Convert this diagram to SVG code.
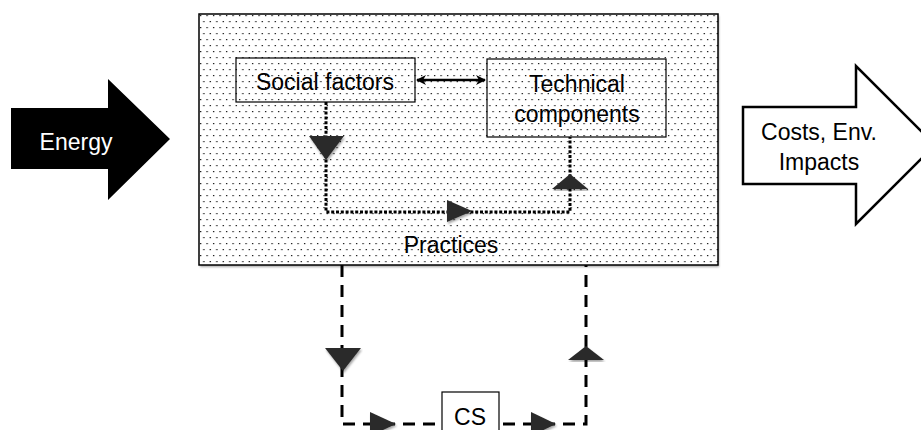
<svg xmlns="http://www.w3.org/2000/svg" width="921" height="430" viewBox="0 0 921 430">
  <defs>
    <!-- stippled fill for the practices area -->
    <pattern id="dots" x="199" y="14" width="6.5" height="12" patternUnits="userSpaceOnUse">
      <rect x="1" y="1" width="1.2" height="1.2" fill="#000"/>
      <rect x="4.25" y="7" width="1.2" height="1.2" fill="#000"/>
    </pattern>
    <filter id="shadow" x="-5%" y="-5%" width="110%" height="115%">
      <feDropShadow dx="1" dy="2" stdDeviation="1.2" flood-color="#000" flood-opacity="0.35"/>
    </filter>
    <marker id="tip" viewBox="0 0 10 10" refX="9" refY="5" markerWidth="4" markerHeight="4" orient="auto-start-reverse" markerUnits="strokeWidth">
      <path d="M0,0 L10,5 L0,10 L3,5 Z" fill="#000"/>
    </marker>
    <style>
      .lbl { font-family: "Liberation Sans", Arial, sans-serif; font-size: 23px; fill: #000; text-anchor: middle; }
      .box { fill: none; stroke: #000; stroke-width: 1.2; }
      .dotted { fill: none; stroke: #000; stroke-width: 3; stroke-dasharray: 3 1.8; }
      .dashed { fill: none; stroke: #000; stroke-width: 3; stroke-dasharray: 12 8; }
      .head { fill: #2a2a2a; filter: url(#shadow); }
    </style>
  </defs>

  <rect width="921" height="430" fill="#fff"/>

  <!-- input arrow -->
  <g id="energy">
    <polygon points="11,108 108,108 108,79 170,139 108,200 108,169 11,169" fill="#000"/>
    <text class="lbl" x="76" y="150" style="fill:#fff">Energy</text>
  </g>

  <!-- practices container -->
  <g id="practices">
    <rect x="199" y="14" width="519" height="251" fill="#fff" filter="url(#shadow)"/>
    <rect x="199" y="14" width="519" height="251" fill="url(#dots)" stroke="#000" stroke-width="1.5"/>
    <text class="lbl" x="451" y="253">Practices</text>
  </g>

  <g id="social-factors">
    <rect class="box" x="236" y="58" width="179" height="44"/>
    <text class="lbl" x="325" y="90">Social factors</text>
  </g>

  <g id="technical-components">
    <rect class="box" x="487" y="59" width="179" height="78"/>
    <text class="lbl" x="577" y="92">Technical</text>
    <text class="lbl" x="577" y="122">components</text>
  </g>

  <!-- output arrow -->
  <g id="costs">
    <polygon points="743,107 856,107 856,66 935,145 856,224 856,184 743,184" fill="#fff" stroke="#000" stroke-width="2.5"/>
    <text class="lbl" x="819" y="140">Costs, Env.</text>
    <text class="lbl" x="819" y="170">Impacts</text>
  </g>

  <g id="connectors">
    <!-- two-way link between social and technical -->
    <line x1="417" y1="80" x2="485" y2="80" stroke="#000" stroke-width="2.5" marker-start="url(#tip)" marker-end="url(#tip)"/>

    <!-- inner dotted loop -->
    <polyline class="dotted" points="326,102 326,212 570,212 570,137"/>
    <polygon class="head" points="309,136 344,136 326,160"/>
    <polygon class="head" points="447,200 472,211 447,222"/>
    <polygon class="head" points="552,189 588,189 570,174"/>

    <!-- outer dashed loop through CS -->
    <polyline class="dashed" points="342,265 342,424 586,424 586,265"/>
    <polygon class="head" points="325,348 361,348 343,371"/>
    <polygon class="head" points="568,360 604,360 586,346"/>
    <polygon class="head" points="370,412 396,424 370,436"/>
    <polygon class="head" points="531,412 556,424 531,436"/>
  </g>

  <g id="cs">
    <rect x="442" y="392" width="57" height="50" fill="#fff" stroke="#000" stroke-width="1.2"/>
    <text class="lbl" x="470" y="425">CS</text>
  </g>
</svg>
